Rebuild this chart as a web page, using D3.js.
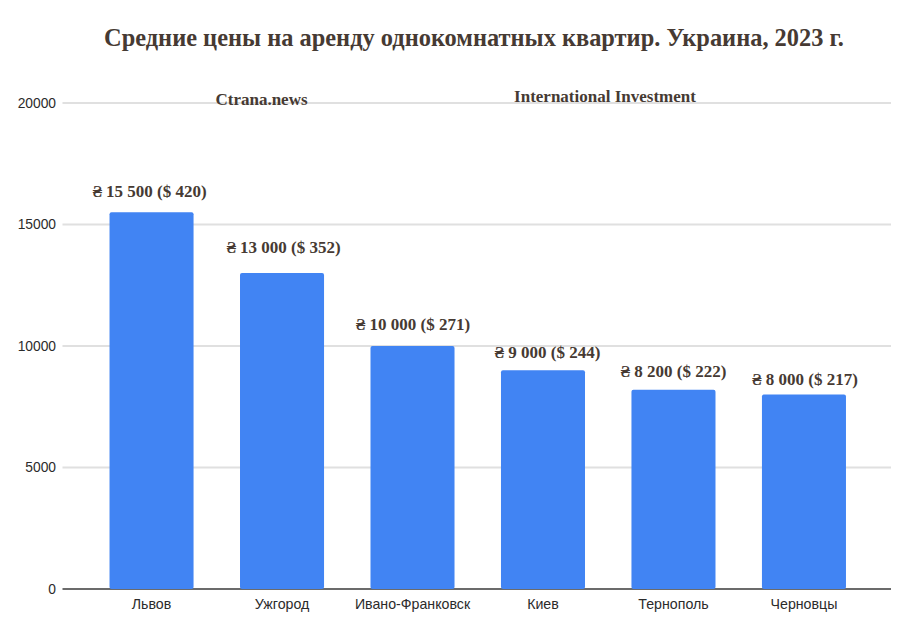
<!DOCTYPE html>
<html lang="ru">
<head>
<meta charset="utf-8">
<title>Средние цены на аренду</title>
<script src="https://cdn.jsdelivr.net/npm/d3@7/dist/d3.min.js"></script>
<style>
    html, body { margin: 0; background: #fff; }
    svg { display: block; }
    .axis text { font-family: "Liberation Sans", Arial, sans-serif; fill: #2b2b2b; }
    .axis .domain { display: none; }
    .note { font-family: "Liberation Serif", serif; font-weight: bold; fill: #463a33; }
</style>
</head>
<body>
<div id="chart"></div>
<script>
    const cities = ['Львов', 'Ужгород', 'Ивано-Франковск', 'Киев', 'Тернополь', 'Черновцы'];
    const pricesUah = [15500, 13000, 10000, 9000, 8200, 8000];
    const valueLabels = ['₴ 15 500 ($ 420)', '₴ 13 000 ($ 352)', '₴ 10 000 ($ 271)', '₴ 9 000 ($ 244)', '₴ 8 200 ($ 222)', '₴ 8 000 ($ 217)'];
    const yTicks = [0, 5000, 10000, 15000, 20000];
    const title = 'Средние цены на аренду однокомнатных квартир. Украина, 2023 г.';
    const sources = ['Ctrana.news', 'International Investment'];

    // the labels were placed by hand in the original, so each has its own nudge
    const labelNudge = [[-2, -21], [1.5, -26], [0.5, -21], [4.5, -18], [0, -18], [1, -15]];

    const width = 900, height = 642;
    const svg = d3.select('#chart').append('svg').attr('width', width).attr('height', height);

    const x = d3.scaleBand().domain(cities).range([86.3, 869.2]).paddingInner(0.356).paddingOuter(0.178);
    const y = d3.scaleLinear().domain([0, 20000]).range([589, 103]);
    const left = 62.5, right = 891;

    // grid
    svg.append('g').selectAll('line')
        .data(yTicks)
        .enter().append('line')
        .attr('x1', left).attr('x2', right)
        .attr('y1', d => y(d)).attr('y2', d => y(d))
        .attr('stroke', d => d === 0 ? '#6b6b6b' : '#e0e0e0')
        .attr('stroke-width', 2);

    // y axis
    svg.append('g').attr('class', 'axis')
        .attr('transform', 'translate(' + left + ',0)')
        .call(d3.axisLeft(y).tickValues(yTicks).tickSize(0).tickPadding(6.5).tickFormat(d3.format('d')))
        .selectAll('text').style('font-size', '13.8px');

    // bars
    svg.append('g').selectAll('rect')
        .data(pricesUah)
        .enter().append('rect')
        .attr('x', (d, i) => x(cities[i]))
        .attr('y', d => y(d))
        .attr('width', x.bandwidth())
        .attr('height', d => y(0) - y(d))
        .attr('rx', 2)
        .attr('fill', '#4184f3');

    // x axis
    svg.append('g').attr('class', 'axis')
        .attr('transform', 'translate(0,' + y(0) + ')')
        .call(d3.axisBottom(x).tickSize(0).tickPadding(10))
        .selectAll('text').style('font-size', '14.2px');

    // value labels
    svg.append('g').selectAll('text')
        .data(valueLabels)
        .enter().append('text')
        .attr('class', 'note')
        .attr('x', (d, i) => x(cities[i]) + x.bandwidth() / 2 + labelNudge[i][0])
        .attr('y', (d, i) => y(pricesUah[i]) + labelNudge[i][1])
        .attr('dy', '0.32em')
        .attr('text-anchor', 'middle')
        .attr('font-size', 17)
        .text(d => d);

    svg.append('text').attr('class', 'note')
        .attr('x', 474).attr('y', 46)
        .attr('text-anchor', 'middle')
        .attr('font-size', 24.4)
        .text(title);

    svg.append('text').attr('class', 'note')
        .attr('x', 261.5).attr('y', 105)
        .attr('text-anchor', 'middle').attr('font-size', 17)
        .text(sources[0]);

    svg.append('text').attr('class', 'note')
        .attr('x', 605).attr('y', 102)
        .attr('text-anchor', 'middle').attr('font-size', 17)
        .text(sources[1]);
</script>
</body>
</html>
